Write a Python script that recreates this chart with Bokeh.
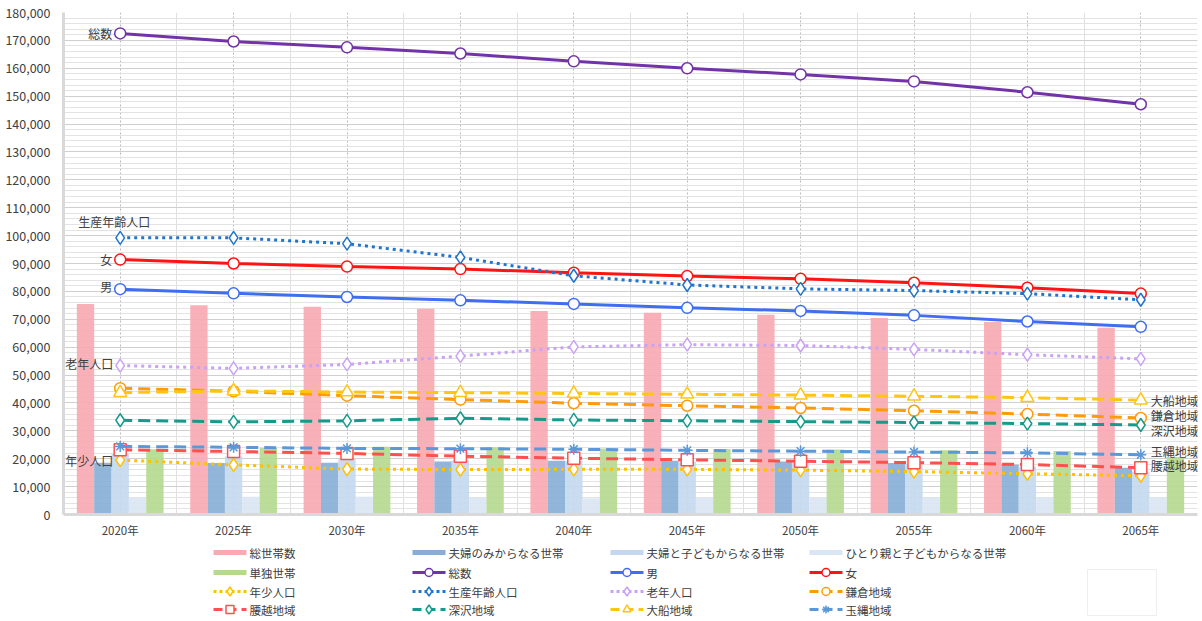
from bokeh.plotting import figure
from bokeh.models import (FixedTicker, NumeralTickFormatter, Range1d, ColumnDataSource)
from bokeh.layouts import column
from bokeh.transform import dodge
from bokeh.core.properties import value
from bokeh.embed import file_html
from bokeh.resources import INLINE

years = ["2020年", "2025年", "2030年", "2035年", "2040年", "2045年", "2050年", "2055年", "2060年", "2065年"]
xpos = list(range(len(years)))

# bars (households)
hh_total = [75500, 75000, 74500, 73800, 73000, 72300, 71600, 70500, 69000, 67000]
hh_couple = [18600, 18500, 18600, 19000, 19300, 19300, 19000, 18500, 17900, 16800]
hh_couple_child = [21700, 20800, 19900, 19400, 19200, 19000, 18600, 18000, 17200, 15400]
hh_single_parent = [6100, 6400, 6400, 6100, 5800, 5900, 6000, 6100, 6100, 6100]
hh_single = [23400, 23800, 24300, 24100, 23700, 23500, 23300, 23000, 22800, 20600]

# lines (population)
pop_total = [172500, 169600, 167500, 165300, 162500, 160000, 157800, 155300, 151400, 147100]
pop_male = [80800, 79300, 78000, 76800, 75500, 74100, 73000, 71400, 69200, 67300]
pop_female = [91400, 90000, 88900, 88000, 86700, 85500, 84500, 83100, 81300, 79200]
pop_young = [19500, 17800, 16300, 16100, 16200, 16200, 15900, 15400, 14600, 13900]
pop_working = [99200, 99200, 97100, 92200, 85600, 82300, 80900, 80300, 79200, 77000]
pop_old = [53400, 52400, 53800, 56800, 60100, 60900, 60600, 59200, 57300, 55800]
reg_kamakura = [45300, 44200, 42600, 41200, 39900, 39000, 38200, 37200, 36000, 34600]
reg_koshigoe = [23200, 22600, 21900, 20900, 20200, 19600, 19100, 18600, 17900, 16800]
reg_fukasawa = [33800, 33200, 33600, 34500, 33900, 33600, 33300, 33000, 32600, 32100]
reg_ofuna = [43700, 44300, 43900, 43700, 43400, 43100, 42800, 42400, 41900, 41000]
reg_tamanawa = [24400, 24100, 23700, 23600, 23400, 23000, 22700, 22400, 22100, 21400]

FONT = "Noto Sans CJK JP"
TXT = "#404040"

src = ColumnDataSource(dict(
    x=xpos, hh_total=hh_total, hh_couple=hh_couple, hh_couple_child=hh_couple_child,
    hh_single_parent=hh_single_parent, hh_single=hh_single,
    pop_total=pop_total, pop_male=pop_male, pop_female=pop_female,
    pop_young=pop_young, pop_working=pop_working, pop_old=pop_old,
    reg_kamakura=reg_kamakura, reg_koshigoe=reg_koshigoe, reg_fukasawa=reg_fukasawa,
    reg_ofuna=reg_ofuna, reg_tamanawa=reg_tamanawa,
))

FRAME_L, FRAME_R = 63, 1197

p = figure(width=1200, height=542, x_range=Range1d(-0.5, 9.5), y_range=Range1d(0, 180000),
           output_backend="svg", toolbar_location=None,
           min_border_left=FRAME_L, min_border_top=12, min_border_right=1200 - FRAME_R,
           min_border_bottom=28)
p.outline_line_color = None

# axes
yt = FixedTicker(ticks=list(range(0, 180001, 10000)), minor_ticks=list(range(0, 180001, 2000)))
xt = FixedTicker(ticks=xpos, minor_ticks=[i - 0.5 for i in range(len(years) + 1)])
p.yaxis.ticker = yt
p.ygrid.ticker = yt
p.xaxis.ticker = xt
p.xgrid.ticker = xt
p.yaxis.formatter = NumeralTickFormatter(format="0,0")
p.xaxis.major_label_overrides = {i: years[i] for i in xpos}
for ax in (p.xaxis[0], p.yaxis[0]):
    ax.major_tick_line_color = None
    ax.minor_tick_line_color = None
    ax.axis_line_color = "#d9d9d9"
    ax.axis_line_width = 3
    ax.major_label_text_font = FONT
    ax.major_label_text_color = TXT
p.xaxis.major_label_text_font_size = "11.5px"
p.yaxis.major_label_text_font_size = "12.5px"
p.xaxis.major_label_standoff = 1
p.yaxis.major_label_standoff = 7

p.ygrid.grid_line_color = "#cfcfcf"
p.ygrid.minor_grid_line_color = "#e3e3e3"
p.xgrid.grid_line_color = "#b8b8b8"
p.xgrid.grid_line_dash = "2 2"
p.xgrid.minor_grid_line_color = "#e0e0e0"

# bars
bar_specs = [
    ("hh_total", "総世帯数", "#F8A9B1", -0.306),
    ("hh_couple", "夫婦のみからなる世帯", "#86AED6", -0.153),
    ("hh_couple_child", "夫婦と子どもからなる世帯", "#C3D8EE", 0.0),
    ("hh_single_parent", "ひとり親と子どもからなる世帯", "#DAE6F3", 0.153),
    ("hh_single", "単独世帯", "#B5D98E", 0.306),
]
for field, label, color, off in bar_specs:
    p.vbar(x=dodge("x", off), top=field, width=0.153, source=src,
           fill_color=color, line_color=None, fill_alpha=0.9)

line_specs = [
    ("pop_total", "総数", "#7333A8", "solid", "circle"),
    ("pop_male", "男", "#3F6EF0", "solid", "circle"),
    ("pop_female", "女", "#FF1414", "solid", "circle"),
    ("pop_young", "年少人口", "#FFC000", "3 4", "diamond"),
    ("pop_working", "生産年齢人口", "#1F74CC", "3 4", "diamond"),
    ("pop_old", "老年人口", "#C9A2F5", "3 4", "diamond"),
    ("reg_kamakura", "鎌倉地域", "#FF9A0A", "12 6", "circle"),
    ("reg_koshigoe", "腰越地域", "#FF5050", "12 6", "square"),
    ("reg_fukasawa", "深沢地域", "#17998C", "12 6", "diamond"),
    ("reg_ofuna", "大船地域", "#FFC513", "12 6", "triangle"),
    ("reg_tamanawa", "玉縄地域", "#5B98D8", "12 6", "asterisk"),
]
msize = {"circle": 11, "diamond": 13, "square": 12, "triangle": 13, "asterisk": 11}
for field, label, color, dash, marker in line_specs:
    p.line(x="x", y=field, source=src, line_color=color, line_width=3, line_dash=dash)
    p.scatter(x="x", y=field, source=src, marker=marker, size=msize[marker],
              fill_color="white", line_color=color, line_width=1.5)

# annotations
def label(xv, yv, txt, align, xo, yo):
    p.text(x=[xv], y=[yv], text=[txt], text_align=align, text_baseline="middle",
           x_offset=xo, y_offset=yo, text_font=value(FONT), text_font_size="12px",
           text_color=TXT)

label(xpos[0], pop_total[0], "総数", "right", -8, 0)
label(xpos[0], pop_working[0], "生産年齢人口", "center", -6, -16)
label(xpos[0], pop_female[0], "女", "right", -8, 0)
label(xpos[0], pop_male[0], "男", "right", -8, -3)
label(xpos[0], pop_old[0], "老年人口", "right", -7, -2)
label(xpos[0], pop_young[0], "年少人口", "right", -7, 0)
label(xpos[-1], reg_ofuna[-1], "大船地域", "left", 10, 0)
label(xpos[-1], reg_kamakura[-1], "鎌倉地域", "left", 10, -3)
label(xpos[-1], reg_fukasawa[-1], "深沢地域", "left", 10, 6)
label(xpos[-1], reg_tamanawa[-1], "玉縄地域", "left", 10, -3)
label(xpos[-1], reg_koshigoe[-1], "腰越地域", "left", 10, -2)

# ---- legend (separate strip; its frame is aligned with the main frame, so the
# x range is set to page pixels FRAME_L..FRAME_R) ----
LH = 79
leg = figure(width=1200, height=LH, x_range=Range1d(FRAME_L, FRAME_R), y_range=Range1d(LH, 0),
             output_backend="svg", toolbar_location=None,
             x_axis_location=None, y_axis_location=None,
             min_border_left=FRAME_L, min_border_right=1200 - FRAME_R,
             min_border_top=0, min_border_bottom=0)
leg.outline_line_color = None
leg.grid.visible = False

col_x = [213, 412, 610, 809]
row_y = [10, 30, 49, 67]
GW = 33

legend_entries = [(lab, "bar", col) for _, lab, col, _ in bar_specs] + \
                 [(lab, (col, dash, mk), None) for _, lab, col, dash, mk in line_specs]
for i, (lab, kind, col) in enumerate(legend_entries):
    cx = col_x[i % 4]
    ry = row_y[i // 4]
    if kind == "bar":
        leg.line(x=[cx, cx + GW], y=[ry, ry], line_color=col, line_width=5)
    else:
        c, dash, mk = kind
        ldash = "solid" if dash == "solid" else ("3 3" if dash == "3 4" else "9 5")
        leg.line(x=[cx, cx + GW], y=[ry, ry], line_color=c, line_width=3, line_dash=ldash)
        leg.scatter(x=[cx + GW / 2], y=[ry], marker=mk, size=8 if mk != "diamond" else 9,
                    fill_color="white", line_color=c, line_width=1.5)
    leg.text(x=[cx + GW + 3], y=[ry], text=[lab], text_align="left", text_baseline="middle",
             text_font=value(FONT), text_font_size="11.5px", text_color=TXT)

# faint empty box at the right of the legend
leg.quad(left=[1087], right=[1156], top=[27], bottom=[73], fill_color="white",
         line_color="#eeeeee", line_width=1)

layout = column(p, leg, spacing=0)
open("out.html", "w").write(file_html(layout, INLINE))
